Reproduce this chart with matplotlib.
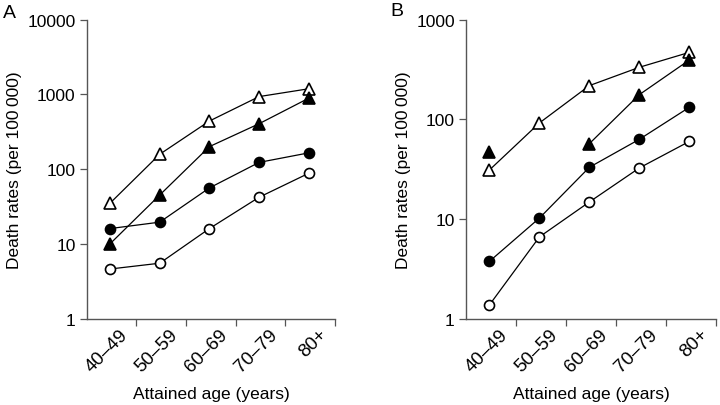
import matplotlib
matplotlib.use("Agg")
import matplotlib.pyplot as plt
import matplotlib.transforms as mtransforms
import numpy as np

plt.rcParams['font.family'] = ['Liberation Sans', 'DejaVu Sans']

age_groups = ["40\u201349", "50\u201359", "60\u201369", "70\u201379", "80+"]

# panel A
a_open_tri = [35, 158, 440, 935, 1190]
a_fill_tri = [10, 45, 200, 405, 890]
a_fill_circ = [16, 19.5, 56, 123, 165]
a_open_circ = [4.6, 5.5, 16, 42, 88]

# panel B (no value for 50-59 filled triangles)
b_open_tri = [31, 92, 218, 333, 470]
b_fill_tri = [47, np.nan, 57, 177, 394]
b_fill_circ = [3.75, 10.2, 33, 63, 132]
b_open_circ = [1.37, 6.6, 14.8, 32.5, 60]

LINE_KW = dict(color="black", lw=0.9, markeredgecolor="black", markeredgewidth=1.2)


def draw_panel(ax, series, ymax):
    x = np.arange(len(age_groups))
    for vals, marker, face in series:
        ax.plot(x, vals, marker=marker, markerfacecolor=face,
                markersize=8 if marker == "^" else 7.2, **LINE_KW)
    ax.set_yscale("log")
    ax.set_ylim(1, ymax)
    ax.set_xlim(-0.47, 4.53)
    ax.yaxis.set_major_locator(matplotlib.ticker.LogLocator(base=10, numticks=10))
    ax.yaxis.set_minor_locator(matplotlib.ticker.NullLocator())
    ax.yaxis.set_major_formatter(matplotlib.ticker.FuncFormatter(lambda v, p: f"{v:g}"))

    ax.set_xticks(x)
    ax.set_xticklabels(age_groups, rotation=45, ha="right", va="top",
                       rotation_mode="anchor", fontsize=13.5)
    ax.set_xticks(x + 0.53, minor=True)
    ax.tick_params(axis="x", which="major", length=0, pad=5)
    ax.tick_params(axis="x", which="minor", length=5, width=0.9, color="#555555")
    ax.tick_params(axis="y", length=5, width=0.9, color="#555555", labelsize=12.5, pad=3)
    offset = mtransforms.ScaledTranslation(7 / 72, 0, ax.figure.dpi_scale_trans)
    for lab in ax.get_xticklabels():
        lab.set_transform(lab.get_transform() + offset)

    for side in ("top", "right"):
        ax.spines[side].set_visible(False)
    for side in ("left", "bottom"):
        ax.spines[side].set_color("#555555")
        ax.spines[side].set_linewidth(1.0)

    ax.set_ylabel("Death rates (per 100\u2009000)", fontsize=12.5, labelpad=4)
    ax.set_xlabel("Attained age (years)", fontsize=12.5, va="center")
    ax.xaxis.set_label_coords(0.5, -0.25)


fig = plt.figure(figsize=(7.2, 4.06), dpi=100)
ax_a = fig.add_axes([0.1204, 0.213, 0.345, 0.736])
ax_b = fig.add_axes([0.6472, 0.213, 0.347, 0.736])

draw_panel(ax_a, [(a_open_tri, "^", "white"), (a_fill_tri, "^", "black"),
                  (a_fill_circ, "o", "black"), (a_open_circ, "o", "white")], 10000)
draw_panel(ax_b, [(b_open_tri, "^", "white"), (b_fill_tri, "^", "black"),
                  (b_fill_circ, "o", "black"), (b_open_circ, "o", "white")], 1000)

fig.text(3 / 720, 1 - 5 / 406, "A", fontsize=14, va="top", ha="left")
fig.text(390 / 720, 1 - 3 / 406, "B", fontsize=14, va="top", ha="left")

fig.savefig("out.png", dpi=100)
